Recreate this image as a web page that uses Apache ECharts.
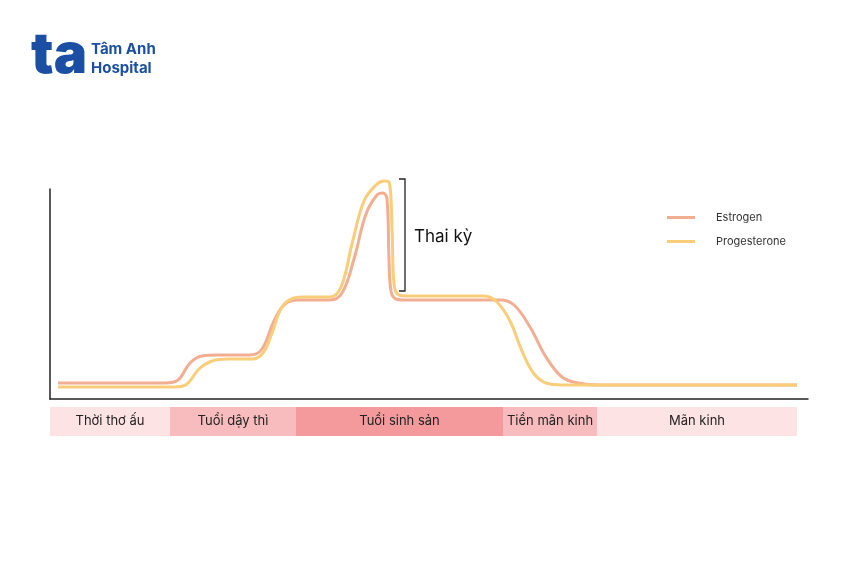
<!DOCTYPE html>
<html><head><meta charset="utf-8">
<script src="https://cdn.jsdelivr.net/npm/echarts@6/dist/echarts.min.js"></script>
<style>html,body{margin:0;background:#fff}#c{width:847px;height:565px}</style>
</head><body><div id="c"></div>
<script>
const estrogen=[[58,16],[165,16],[178,19],[190,36],[202,43],[218,44],[250,44],[262,50],[274,78],[285,95],[298,99],[330,99],[342,106],[354,140],[366,185],[377,204],[383,206],[387,200],[389,140],[391,108],[396,100],[404,99],[500,99],[514,94],[530,72],[546,42],[562,22],[578,16],[600,14],[797,14]];
const progesterone=[[58,12],[175,12],[187,15],[199,30],[212,38],[228,40],[252,40],[263,46],[272,66],[282,92],[294,101],[304,102],[330,102],[341,112],[352,155],[364,198],[376,214],[384,218],[389,217],[392,170],[394,115],[399,104],[408,103],[484,103],[497,97],[510,78],[522,48],[535,24],[550,15],[568,14],[797,14]];
const stages=['Thời thơ ấu','Tuổi dậy thì','Tuổi sinh sản','Tiền mãn kinh','Mãn kinh'];
const stageBounds=[[50,170],[170,296],[296,503],[503,597],[597,797]];
const stageColors=['#FDE3E4','#F9BCBE','#F49A9C','#F9BCBE','#FDE3E4'];
const chart=echarts.init(document.getElementById('c'));
const font='Inter, "Noto Sans", sans-serif';
chart.setOption({
  animation:false,
  grid:{left:50,right:39,top:189,bottom:166},
  xAxis:{type:'value',min:50,max:808,axisLine:{show:true,lineStyle:{color:'#222',width:1.5}},axisTick:{show:false},axisLabel:{show:false},splitLine:{show:false}},
  yAxis:{type:'value',min:0,max:210,axisLine:{show:true,lineStyle:{color:'#222',width:1.5}},axisTick:{show:false},axisLabel:{show:false},splitLine:{show:false}},
  legend:{orient:'vertical',left:662,top:207,itemWidth:28,itemHeight:3,itemGap:13,icon:'rect',textStyle:{fontFamily:font,fontSize:11,color:'#333',padding:[0,0,0,16]},data:['Estrogen','Progesterone']},
  series:[
    {name:'Estrogen',type:'line',data:estrogen,smooth:0.4,showSymbol:false,clip:false,color:'#F2AE92',lineStyle:{width:3}},
    {name:'Progesterone',type:'line',data:progesterone,smooth:0.4,showSymbol:false,clip:false,color:'#F9CD7A',lineStyle:{width:3}}
  ]
});
const g=[
  {type:'text',left:31,top:28,style:{text:'ta',font:'900 56px '+font,fill:'#1A4FA3'}},
  {type:'text',left:91,top:42,style:{text:'Tâm Anh',font:'bold 15px '+font,fill:'#1A4FA3'}},
  {type:'text',left:91,top:61,style:{text:'Hospital',font:'bold 15px '+font,fill:'#1A4FA3'}},
  {type:'polyline',shape:{points:[[399,179],[405,179],[405,291],[399,291]]},style:{stroke:'#222',lineWidth:1.3,fill:null}},
  {type:'text',left:414,top:228,style:{text:'Thai kỳ',font:'17px '+font,fill:'#111'}}
];
stageBounds.forEach((b,i)=>{
  const x0=chart.convertToPixel({xAxisIndex:0},b[0]), x1=chart.convertToPixel({xAxisIndex:0},b[1]);
  g.push({type:'rect',shape:{x:x0,y:407,width:x1-x0,height:29},style:{fill:stageColors[i]}});
  g.push({type:'text',x:(x0+x1)/2,y:421.5,style:{text:stages[i],font:'13px '+font,fill:'#222',align:'center',verticalAlign:'middle'}});
});
chart.setOption({graphic:g});
</script></body></html>
